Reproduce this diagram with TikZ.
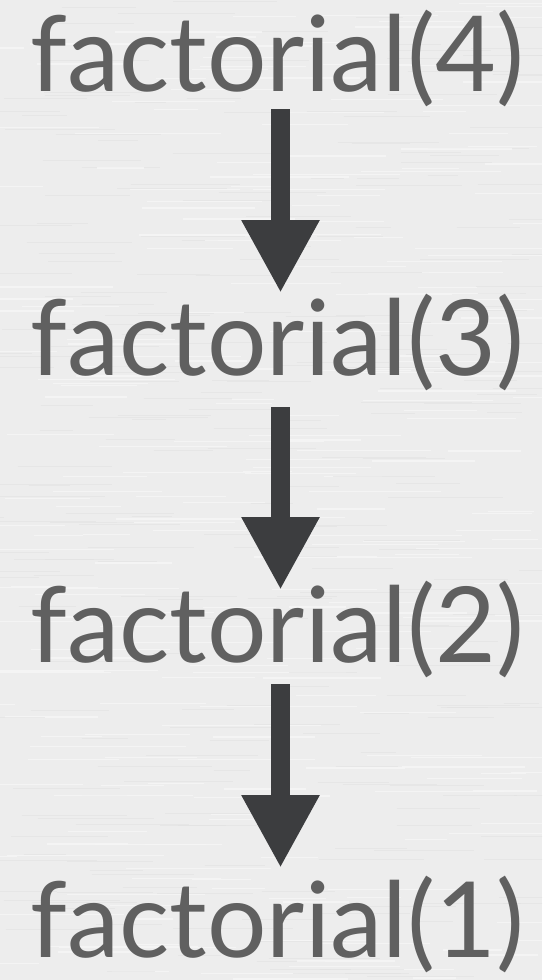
\documentclass[tikz,border=0pt]{standalone}
\usepackage{fontspec}
\setmainfont{Lato}
\usetikzlibrary{arrows.meta}
\definecolor{bgpaper}{HTML}{EDEDED}
\definecolor{streak}{HTML}{F6F6F6}
\definecolor{streakdark}{HTML}{E2E2E2}
\definecolor{txtgray}{HTML}{606060}
\definecolor{arrgray}{HTML}{3C3D3F}
\tikzset{
  x=1pt, y=-1pt,
  label/.style={inner sep=0pt, outer sep=0pt, anchor=base, text=txtgray,
    font=\fontsize{105}{105}\selectfont},
  callarrow/.style={draw=arrgray, line width=19pt,
    -{Triangle[length=73pt, width=73pt]}}
}
\begin{document}
\begin{tikzpicture}
\useasboundingbox (0,0) rectangle (542,980);
\begin{scope}
\clip (0,0) rectangle (542,980);
\fill[bgpaper] (0,0) rectangle (542,980);
\pgfmathsetseed{7}
\foreach \i in {1,...,260}{
  \pgfmathsetmacro{\sx}{rnd*560-40}
  \pgfmathsetmacro{\sy}{rnd*980}
  \pgfmathsetmacro{\sl}{40+rnd*120}
  \draw[streak, line width=1.2pt, opacity=0.8] (\sx,\sy) -- ++(\sl,0);
  \pgfmathsetmacro{\tx}{rnd*560-40}
  \pgfmathsetmacro{\ty}{rnd*980}
  \pgfmathsetmacro{\tl}{30+rnd*90}
  \draw[streakdark, line width=0.8pt, opacity=0.6] (\tx,\ty) -- ++(\tl,0);
}
\end{scope}
\node[label] (f4) at (277.5,91) {factorial(4)};
\node[label] (f3) at (277.5,375) {factorial(3)};
\node[label] (f2) at (277.5,662) {factorial(2)};
\node[label] (f1) at (277.5,957) {factorial(1)};
\draw[callarrow] ([xshift=3pt,yshift=-18pt]f4.base) -- ([xshift=3pt,yshift=82pt]f3.base);
\draw[callarrow] ([xshift=3pt,yshift=-32pt]f3.base) -- ([xshift=3pt,yshift=72pt]f2.base);
\draw[callarrow] ([xshift=3pt,yshift=-22pt]f2.base) -- ([xshift=3pt,yshift=89pt]f1.base);
\end{tikzpicture}
\end{document}
